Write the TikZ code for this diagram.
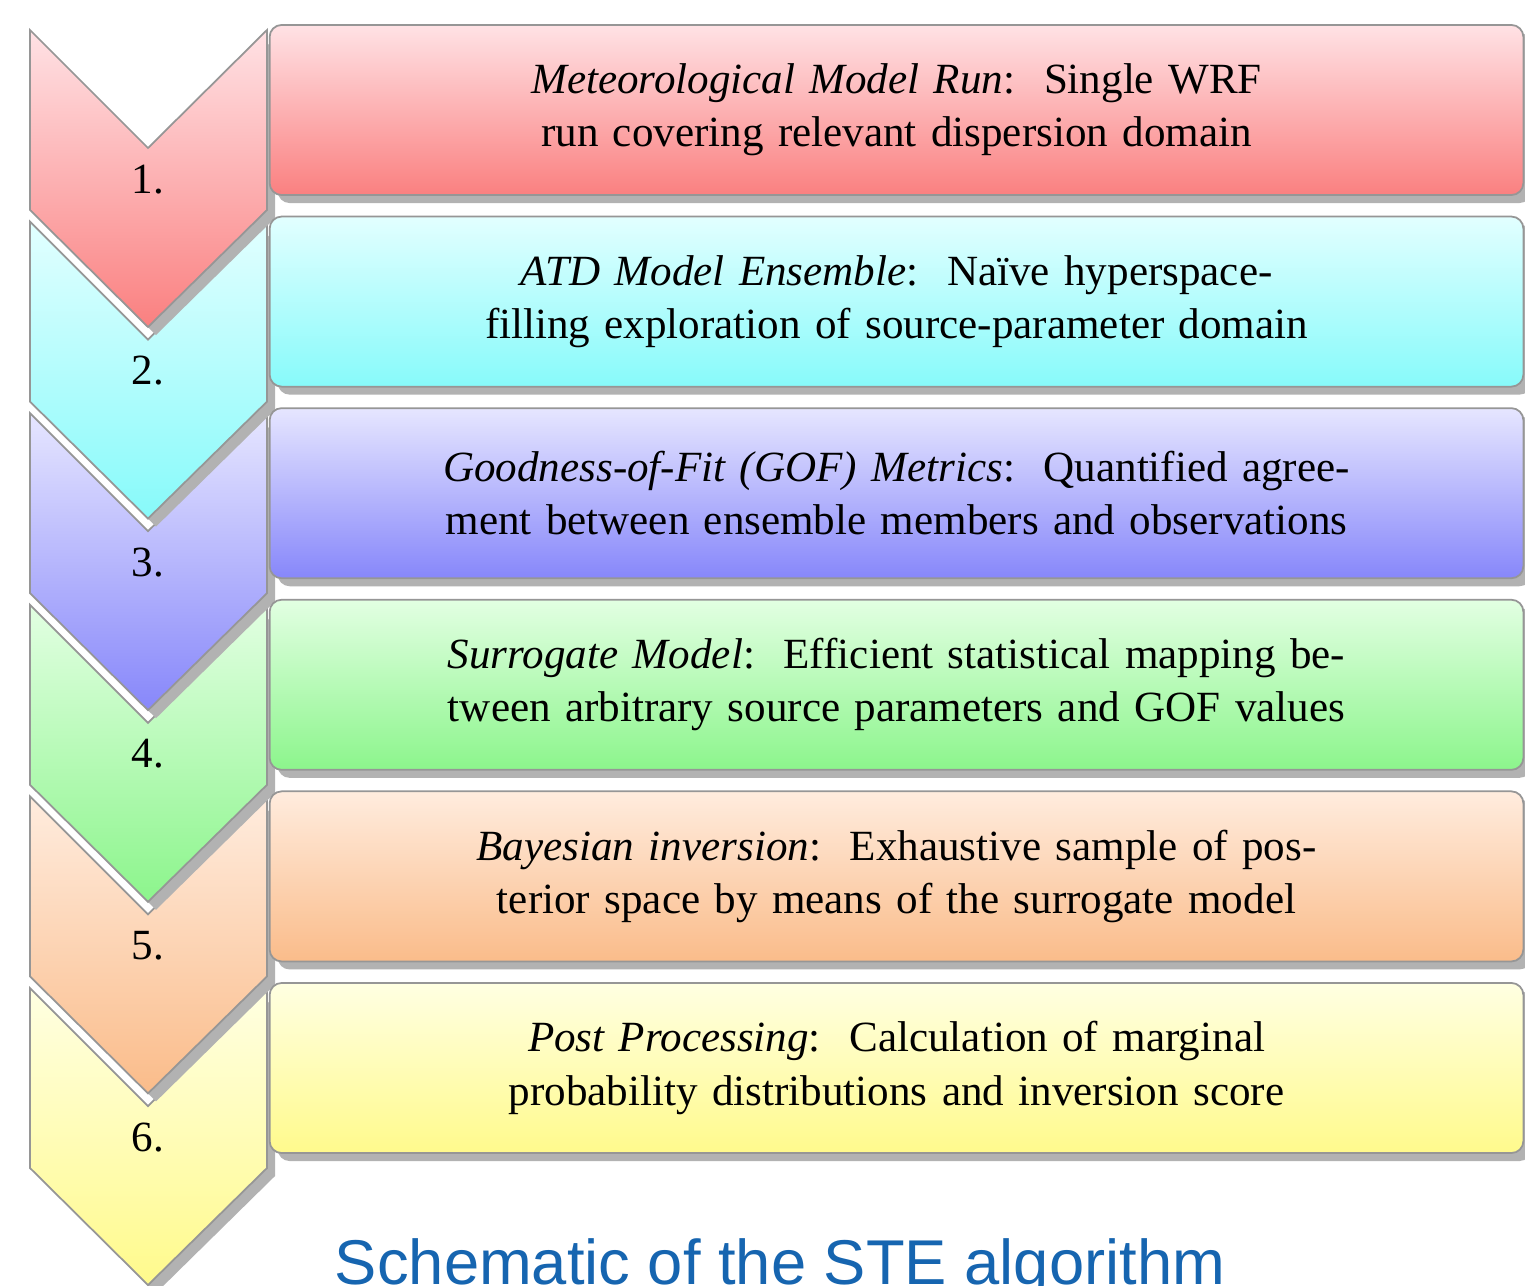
\documentclass[tikz,border=0pt]{standalone}
\usepackage{fontspec}
\setmainfont{Liberation Serif}
\newfontfamily\capfont{Liberation Sans}
\usetikzlibrary{shadows}
\definecolor{edgegray}{RGB}{150,150,150}
\definecolor{shadowgray}{RGB}{178,178,178}
\definecolor{capblue}{RGB}{22,101,176}
\definecolor{c1t}{RGB}{255,226,229}\definecolor{c1b}{RGB}{250,128,128}
\definecolor{c2t}{RGB}{226,255,255}\definecolor{c2b}{RGB}{135,250,250}
\definecolor{c3t}{RGB}{230,230,255}\definecolor{c3b}{RGB}{135,135,250}
\definecolor{c4t}{RGB}{226,255,226}\definecolor{c4b}{RGB}{140,245,140}
\definecolor{c5t}{RGB}{255,236,222}\definecolor{c5b}{RGB}{250,188,138}
\definecolor{c6t}{RGB}{255,255,226}\definecolor{c6b}{RGB}{255,250,140}
\tikzset{
  stepbox/.style={draw=edgegray, line width=0.5pt, rounded corners=0.12cm,
    minimum width=12.53cm, minimum height=1.7cm, inner sep=0pt,
    text width=12.2cm, align=center,
    font=\fontsize{12.25pt}{15.1pt}\selectfont,
    drop shadow={shadow xshift=0.08cm, shadow yshift=-0.08cm, fill=shadowgray, opacity=1}},
  numlabel/.style={anchor=base, inner sep=0pt, font=\fontsize{12.25pt}{14pt}\selectfont},
  chevedge/.style={draw=edgegray, line width=0.5pt, line join=miter}
}
\begin{document}
\begin{tikzpicture}[x=0.01cm, y=-0.01cm]
\useasboundingbox[fill=white] (0,0) rectangle (1525,1285);
% chevrons, drawn from the bottom up
\foreach \k/\ct/\cb in {5/c6t/c6b, 4/c5t/c5b, 3/c4t/c4b, 2/c3t/c3b, 1/c2t/c2b, 0/c1t/c1b}{
  \pgfmathsetmacro\t{30+191.6*\k}
  \fill[shadowgray, shift={(8,8)}] (30,\t) -- ++(118,118) -- ++(119,-118) -- ++(0,180) -- ++(-119,117) -- ++(-118,-117) -- cycle;
  \shade[top color=\ct, bottom color=\cb, chevedge] (30,\t) -- ++(118,118) -- ++(119,-118) -- ++(0,180) -- ++(-119,117) -- ++(-118,-117) -- cycle;
  \pgfmathsetmacro\nb{\t+163}
  \pgfmathtruncatemacro\n{\k+1}
  \node[numlabel] (n\n) at (148,\nb) {\n.};
}
% boxes
\node[stepbox, top color=c1t, bottom color=c1b] (b1) at (896.5,110) {\textit{Meteorological Model Run}:\ \ Single WRF\\run covering relevant dispersion domain};
\node[stepbox, top color=c2t, bottom color=c2b] (b2) at (896.5,301.6) {\textit{ATD Model Ensemble}:\ \ Naïve hyperspace-\\filling exploration of source-parameter domain};
\node[stepbox, top color=c3t, bottom color=c3b] (b3) at (896.5,493.2) {\textit{Goodness-of-Fit (GOF) Metrics}:\ \ Quantified agree-\\ment between ensemble members and observations};
\node[stepbox, top color=c4t, bottom color=c4b] (b4) at (896.5,684.8) {\textit{Surrogate Model}:\ \ Efficient statistical mapping be-\\tween arbitrary source parameters and GOF values};
\node[stepbox, top color=c5t, bottom color=c5b] (b5) at (896.5,876.4) {\textit{Bayesian inversion}:\ \ Exhaustive sample of pos-\\terior space by means of the surrogate model};
\node[stepbox, top color=c6t, bottom color=c6b] (b6) at (896.5,1068) {\textit{Post Processing}:\ \ Calculation of marginal\\probability distributions and inversion score};
% caption
\node[anchor=base, inner sep=0pt, text=capblue, font=\capfont\fontsize{18pt}{20pt}\selectfont] (cap) at (780,1284) {Schematic of the STE algorithm};
\end{tikzpicture}
\end{document}
